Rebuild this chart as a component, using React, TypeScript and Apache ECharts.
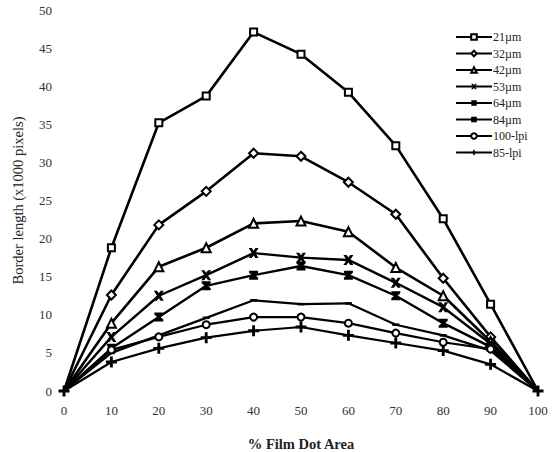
import React, { useEffect, useRef } from "react";
import * as echarts from "echarts";

const xValues = [0, 10, 20, 30, 40, 50, 60, 70, 80, 90, 100];
const seriesNames = ["21µm", "32µm", "42µm", "53µm", "64µm", "84µm", "100-lpi", "85-lpi"];
const s21 = [0, 18.8, 35.2, 38.7, 47.1, 44.2, 39.2, 32.2, 22.6, 11.4, 0];
const s32 = [0, 12.6, 21.8, 26.2, 31.2, 30.8, 27.4, 23.2, 14.8, 7.1, 0];
const s42 = [0, 8.9, 16.3, 18.8, 22.0, 22.3, 20.9, 16.2, 12.5, 6.5, 0];
const s53 = [0, 7.1, 12.5, 15.2, 18.1, 17.5, 17.2, 14.2, 11.0, 6.2, 0];
const s64 = [0, 5.6, 9.7, 13.8, 15.2, 16.4, 15.2, 12.5, 8.9, 5.8, 0];
const s84 = [0, 5.0, 7.3, 9.6, 11.9, 11.4, 11.5, 8.7, 7.3, 5.3, 0];
const s100 = [0, 5.4, 7.1, 8.7, 9.7, 9.7, 8.9, 7.6, 6.4, 5.5, 0];
const s85 = [0, 3.8, 5.6, 7.0, 7.9, 8.4, 7.3, 6.3, 5.3, 3.5, 0];
const yTicks = [0, 5, 10, 15, 20, 25, 30, 35, 40, 45, 50];

const allValues = [s21, s32, s42, s53, s64, s84, s100, s85];

const X_PATH = "path://M0,0 L3.2,0 L5,2.6 L6.8,0 L10,0 L6.8,5 L10,10 L6.8,10 L5,7.4 L3.2,10 L0,10 L3.2,5 Z";
const BOLDX_PATH = "path://M0,0 L10,0 L10,2.2 L6.8,5 L10,7.8 L10,10 L0,10 L0,7.8 L3.2,5 L0,2.2 Z";
const PLUS_PATH = "path://M3.7,0 H6.3 V3.7 H10 V6.3 H6.3 V10 H3.7 V6.3 H0 V3.7 H3.7 Z";

const styles: any[] = [
  { symbol: "emptyRect", size: 7, filled: false, width: 2.6 },
  { symbol: "emptyDiamond", size: 9, filled: false, width: 2.6 },
  { symbol: "emptyTriangle", size: 9, filled: false, width: 2.6 },
  { symbol: X_PATH, size: 10, filled: true, width: 2.4 },
  { symbol: BOLDX_PATH, size: 9, filled: true, width: 2.4 },
  { symbol: "rect", size: [7, 2.5], filled: true, width: 2.2 },
  { symbol: "emptyCircle", size: 7, filled: false, width: 2.2 },
  { symbol: PLUS_PATH, size: 11, filled: true, width: 2.2 },
];

export default function App() {
  const ref = useRef<HTMLDivElement>(null);
  useEffect(() => {
    if (!ref.current) return;
    const chart = echarts.init(ref.current, undefined, { renderer: "svg" });
    const font = "'Liberation Serif', 'DejaVu Serif', serif";
    const series = seriesNames.map((name, i) => {
      const st = styles[i];
      const last = i === seriesNames.length - 1;
      const data = xValues.map((x, k) => {
        const endpoint = k === 0 || k === xValues.length - 1;
        if (endpoint && !last) return { value: [x, allValues[i][k]], symbol: "none" };
        return { value: [x, allValues[i][k]] };
      });
      return {
        name,
        type: "line",
        data,
        symbol: st.symbol,
        symbolSize: st.size,
        showAllSymbol: true,
        z: 2 + i,
        lineStyle: { color: "#000", width: st.width },
        itemStyle: st.filled
          ? { color: "#000", borderWidth: 0 }
          : { color: "#000", borderColor: "#000", borderWidth: 1.8 },
      };
    });
    chart.setOption({
      animation: false,
      backgroundColor: "#fff",
      textStyle: { fontFamily: font },
      grid: { left: 64, right: 15, top: 10, bottom: 61, outerBoundsMode: "none", containLabel: false },
      legend: {
        orient: "vertical",
        left: 450,
        top: 26,
        itemWidth: 36,
        itemHeight: 7,
        itemGap: 4.5,
        textStyle: { fontFamily: font, fontSize: 12, color: "#222", lineHeight: 12, padding: [0, 0, 0, -4] },
        data: seriesNames,
      },
      xAxis: {
        type: "value",
        min: 0,
        max: 100,
        interval: 10,
        name: "% Film Dot Area",
        nameLocation: "middle",
        nameGap: 45,
        nameTextStyle: { fontFamily: font, fontSize: 14.5, fontWeight: "bold", color: "#222" },
        axisLine: { show: false },
        axisTick: { show: false },
        splitLine: { show: false },
        axisLabel: { margin: 13, fontSize: 13, color: "#333", fontFamily: font },
      },
      yAxis: {
        type: "value",
        min: 0,
        max: 50,
        interval: 5,
        name: "Border length (x1000 pixels)",
        nameLocation: "middle",
        nameGap: 39,
        nameTextStyle: { fontFamily: font, fontSize: 14.5, color: "#222" },
        axisLine: { show: false },
        axisTick: { show: false },
        splitLine: { show: false },
        axisLabel: {
          margin: 12,
          fontSize: 13,
          color: "#333",
          fontFamily: font,
          formatter: (v: number) => (yTicks.includes(v) ? String(v) : ""),
        },
      },
      series,
    });
    return () => chart.dispose();
  }, []);
  return <div ref={ref} style={{ width: 553, height: 452, position: "absolute", left: 0, top: 0 }} />;
}
